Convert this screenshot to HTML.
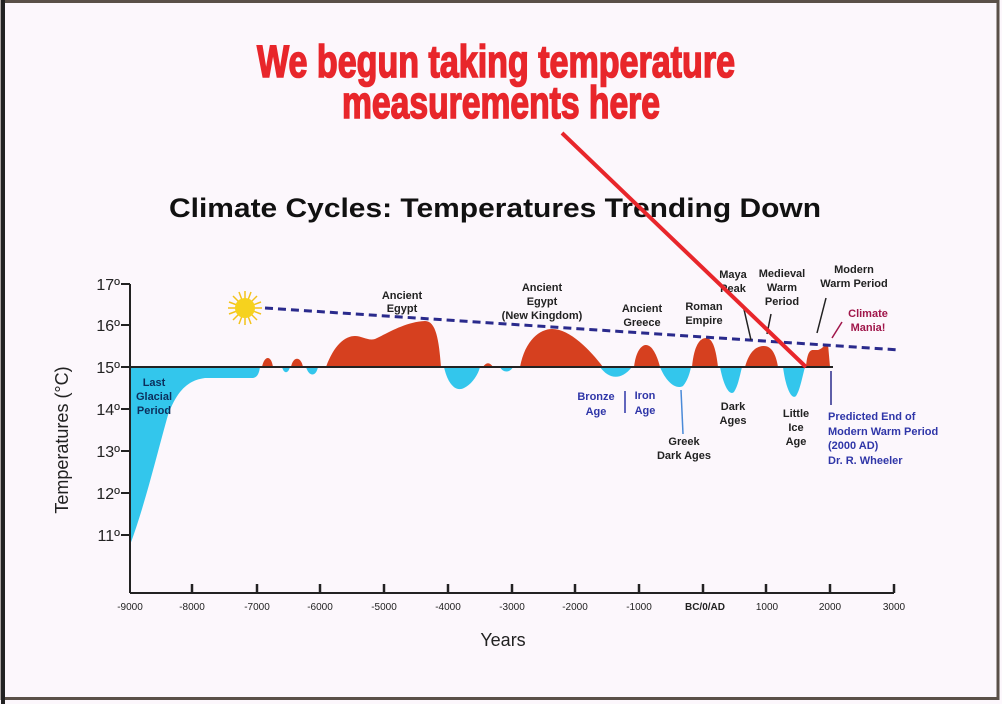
<!DOCTYPE html>
<html><head><meta charset="utf-8"><style>
html,body{margin:0;padding:0;background:#fcf7fc;}
svg{display:block;}
text{font-family:"Liberation Sans",sans-serif;}
</style></head><body>
<svg width="1002" height="704" viewBox="0 0 1002 704" xmlns="http://www.w3.org/2000/svg">
<rect x="0" y="0" width="1002" height="704" fill="#fcf7fc"/>
<rect x="2" y="1.5" width="996" height="697" fill="none" stroke="#5a5048" stroke-width="3"/>
<rect x="1" y="0" width="4" height="704" fill="#222"/>

<!-- red heading -->
<g fill="#e8262b" stroke="#e8262b" stroke-width="1.6" font-weight="bold" font-family="Liberation Sans Narrow, Liberation Sans, sans-serif">
<text x="257" y="77" font-size="45" textLength="478" lengthAdjust="spacingAndGlyphs">We  begun  taking  temperature</text>
<text x="342" y="118" font-size="45" textLength="318" lengthAdjust="spacingAndGlyphs">measurements  here</text>
</g>

<text x="495" y="217" font-size="27" font-weight="bold" text-anchor="middle" fill="#111" textLength="652" lengthAdjust="spacingAndGlyphs">Climate Cycles: Temperatures Trending Down</text>

<!-- blue areas -->
<g fill="#33c6ec">
<path d="M130,367 L130,545 C145,505 158,450 168,415 C178,388 190,380 205,378 L252,378 C257,378 259,374 260,367 Z"/>
<path d="M282,367 C284,374 288,374 290,367 Z"/>
<path d="M306,367 C309,377 316,377 318,367 Z"/>
<path d="M444,367 C448,385 456,392 464,388 C472,384 478,375 480,367 Z"/>
<path d="M500,367 C503,373 510,373 513,367 Z"/>
<path d="M600,367 C608,378 620,382 632,367 Z"/>
<path d="M660,367 C666,382 676,390 683,386 C688,380 690,372 691,367 Z"/>
<path d="M720,367 C724,388 730,396 734,392 C738,386 740,375 742,367 Z"/>
<path d="M783,367 C786,390 792,400 796,396 C800,390 802,378 805,367 Z"/>
</g>
<!-- red areas -->
<g fill="#d6401f">
<path d="M262,367 C264,356 271,354 273,367 Z"/>
<path d="M291,367 C293,356 301,356 303,367 Z"/>
<path d="M326,367 C334,345 345,336 355,336 C362,336 368,341 375,339 C388,333 405,322 425,321 C436,321 439,340 441,367 Z"/>
<path d="M483,367 C486,362 490,362 493,367 Z"/>
<path d="M520,367 C525,340 540,329 552,329 C570,329 590,350 603,367 Z"/>
<path d="M634,367 C636,350 642,345 646,345 C652,345 657,355 660,367 Z"/>
<path d="M692,367 C694,345 700,338 706,338 C713,338 716,350 718,367 Z"/>
<path d="M745,367 C749,352 756,346 764,346 C772,346 776,355 778,367 Z"/>
<path d="M806,367 C807,355 809,350 813,350 L818,350 C822,349 823,346 828,344 L830,367 Z"/>
</g>

<!-- zero line -->
<line x1="130" y1="367" x2="833" y2="367" stroke="#222" stroke-width="2"/>

<!-- axes -->
<g stroke="#222" stroke-width="2">
<line x1="130" y1="284" x2="130" y2="593"/>
<line x1="130" y1="593" x2="894" y2="593"/>
<line x1="121" y1="284" x2="130" y2="284"/>
<line x1="121" y1="325" x2="130" y2="325"/>
<line x1="121" y1="367" x2="130" y2="367"/>
<line x1="121" y1="409" x2="130" y2="409"/>
<line x1="121" y1="451" x2="130" y2="451"/>
<line x1="121" y1="493" x2="130" y2="493"/>
<line x1="121" y1="535" x2="130" y2="535"/>
</g>
<g stroke="#222" stroke-width="2.5">
<line x1="192" y1="584" x2="192" y2="593"/><line x1="257" y1="584" x2="257" y2="593"/>
<line x1="320" y1="584" x2="320" y2="593"/><line x1="384" y1="584" x2="384" y2="593"/>
<line x1="448" y1="584" x2="448" y2="593"/><line x1="512" y1="584" x2="512" y2="593"/>
<line x1="575" y1="584" x2="575" y2="593"/><line x1="639" y1="584" x2="639" y2="593"/>
<line x1="703" y1="584" x2="703" y2="593"/><line x1="766" y1="584" x2="766" y2="593"/>
<line x1="830" y1="584" x2="830" y2="593"/><line x1="894" y1="584" x2="894" y2="593"/>
</g>
<g font-size="16" fill="#222" text-anchor="end">
<text x="120" y="290">17º</text><text x="120" y="331">16º</text><text x="120" y="373">15º</text>
<text x="120" y="415">14º</text><text x="120" y="457">13º</text><text x="120" y="499">12º</text><text x="120" y="541">11º</text>
</g>
<g font-size="10" fill="#222" text-anchor="middle">
<text x="130" y="610">-9000</text><text x="192" y="610">-8000</text><text x="257" y="610">-7000</text>
<text x="320" y="610">-6000</text><text x="384" y="610">-5000</text><text x="448" y="610">-4000</text>
<text x="512" y="610">-3000</text><text x="575" y="610">-2000</text><text x="639" y="610">-1000</text>
<text x="705" y="610" font-weight="bold">BC/0/AD</text><text x="767" y="610">1000</text>
<text x="830" y="610">2000</text><text x="894" y="610">3000</text>
</g>
<text x="503" y="646" font-size="18" text-anchor="middle" fill="#222">Years</text>
<text transform="translate(68,440) rotate(-90)" font-size="18" text-anchor="middle" fill="#222">Temperatures (°C)</text>

<!-- sun -->
<g transform="translate(245,308)">
<g stroke="#f3c21a" stroke-width="1.5">
<line x1="-17" y1="0" x2="17" y2="0"/><line x1="0" y1="-17" x2="0" y2="17"/>
<line x1="-12" y1="-12" x2="12" y2="12"/><line x1="-12" y1="12" x2="12" y2="-12"/>
<line x1="-16" y1="-6" x2="16" y2="6"/><line x1="-16" y1="6" x2="16" y2="-6"/>
<line x1="-6" y1="-16" x2="6" y2="16"/><line x1="6" y1="-16" x2="-6" y2="16"/>
</g>
<circle r="10" fill="#f6d21e"/>
</g>
<!-- trend dashed -->
<line x1="265" y1="308" x2="900" y2="350" stroke="#2a2a8c" stroke-width="3" stroke-dasharray="8,5"/>

<!-- labels -->
<g font-size="11" font-weight="bold" fill="#222" text-anchor="middle">
<text x="402" y="299">Ancient</text><text x="402" y="312">Egypt</text>
<text x="542" y="291">Ancient</text><text x="542" y="305">Egypt</text><text x="542" y="319">(New Kingdom)</text>
<text x="642" y="312">Ancient</text><text x="642" y="326">Greece</text>
<text x="704" y="310">Roman</text><text x="704" y="324">Empire</text>
<text x="733" y="278">Maya</text><text x="733" y="292">Peak</text>
<text x="782" y="277">Medieval</text><text x="782" y="291">Warm</text><text x="782" y="305">Period</text>
<text x="854" y="273">Modern</text><text x="854" y="287">Warm Period</text>
<text x="733" y="410">Dark</text><text x="733" y="424">Ages</text>
<text x="684" y="445">Greek</text><text x="684" y="459">Dark Ages</text>
<text x="796" y="417">Little</text><text x="796" y="431">Ice</text><text x="796" y="445">Age</text>
</g>
<g font-size="11" font-weight="bold" fill="#0c2f5c" text-anchor="middle">
<text x="154" y="386">Last</text><text x="154" y="400">Glacial</text><text x="154" y="414">Period</text>
</g>
<g font-size="11" font-weight="bold" fill="#2f36a8" text-anchor="middle">
<text x="596" y="400">Bronze</text><text x="596" y="415">Age</text>
<text x="645" y="399">Iron</text><text x="645" y="414">Age</text>
</g>
<g font-size="11" font-weight="bold" fill="#2f36a8">
<text x="828" y="420">Predicted End of</text><text x="828" y="435">Modern Warm Period</text>
<text x="828" y="449">(2000 AD)</text><text x="828" y="464">Dr. R. Wheeler</text>
</g>
<g font-size="11" font-weight="bold" fill="#a0164a" text-anchor="middle">
<text x="868" y="317">Climate</text><text x="868" y="331">Mania!</text>
</g>
<g stroke="#222" stroke-width="1.5">
<line x1="743" y1="305" x2="751" y2="340"/>
<line x1="771" y1="314" x2="767" y2="334"/>
<line x1="826" y1="298" x2="817" y2="333"/>
</g>
<line x1="842" y1="322" x2="832" y2="338" stroke="#a0164a" stroke-width="1.5"/>
<line x1="625" y1="391" x2="625" y2="413" stroke="#2f36a8" stroke-width="1.5"/>
<line x1="681" y1="390" x2="683" y2="434" stroke="#4a8ad8" stroke-width="1.5"/>
<line x1="831" y1="371" x2="831" y2="405" stroke="#2a2a8c" stroke-width="1.5"/>

<!-- red arrow line -->
<line x1="562" y1="133" x2="806" y2="367" stroke="#e8262b" stroke-width="4"/>
</svg>
</body></html>
